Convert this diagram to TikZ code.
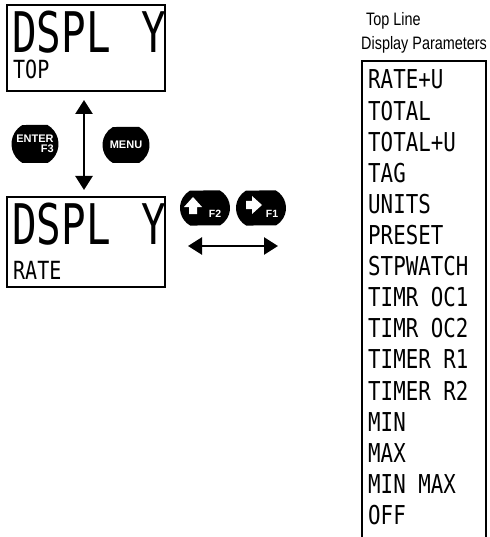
\documentclass[tikz,border=0pt]{standalone}
\usepackage{fontspec}
\setmainfont{Liberation Sans}
\newfontfamily\lcdfont[FakeStretch=0.8]{DejaVu Sans Mono}
\newfontfamily\lcdbig[FakeStretch=0.73]{DejaVu Sans Mono}
\newfontfamily\titlefont[FakeStretch=0.8]{Liberation Sans}
\usetikzlibrary{arrows.meta,shapes.misc}
\tikzset{
  lcdbox/.style={draw, line width=2pt, minimum width=158pt, minimum height=86pt, inner sep=0pt},
  bigtxt/.style={font=\lcdbig\fontsize{56}{56}\selectfont, inner sep=0pt, anchor=base west, text height=41pt, text depth=0pt},
  smalltxt/.style={font=\lcdfont\fontsize{25}{25}\selectfont, inner sep=0pt, anchor=base west, text height=18pt, text depth=0pt},
  listtxt/.style={font=\lcdfont\fontsize{26}{26}\selectfont, inner sep=0pt, anchor=base west, text height=19pt, text depth=0pt},
  keybtn/.style={rounded rectangle, rounded rectangle arc length=120, fill=black, text=white,
     font=\bfseries\fontsize{11}{11}\selectfont, inner sep=0pt},
  keylbl/.style={text=white, font=\bfseries\fontsize{10.5}{10.5}\selectfont, inner sep=0pt},
  dblarrow/.style={{Triangle[length=14pt,width=17pt]}-{Triangle[length=14pt,width=17pt]}, line width=2.5pt},
  titletxt/.style={font=\titlefont\fontsize{18}{20}\selectfont, inner sep=0pt, anchor=base west}
}
\begin{document}
\begin{tikzpicture}[x=1pt,y=-1pt]
\useasboundingbox (0,0) rectangle (489,537);
% LCD boxes
\node[lcdbox] (box1) at (86,48) {};
\node[lcdbox, minimum height=90pt] (box2) at (86,242) {};
\node[bigtxt] (d1) at (12,53) {DSPL};
\node[bigtxt] (y1) at (141,53) {Y};
\node[smalltxt] (top) at (13,79) {TOP};
\node[bigtxt] (d2) at (12,244) {DSPL};
\node[bigtxt] (y2) at (141,244) {Y};
\node[smalltxt] (rate) at (13,279) {RATE};
% vertical arrow
\draw[dblarrow, shorten <=8pt, shorten >=6pt] ([xshift=-2pt]box1.south) -- ([xshift=-2pt]box2.north);
% buttons
\node[keybtn, minimum width=47pt, minimum height=38pt, align=right] (enter) at (35,144) {ENTER\\[-1pt]F3};
\node[keybtn, minimum width=47pt, minimum height=36pt] (menu) at (126,145) {MENU};
\node[keybtn, minimum width=50pt, minimum height=35pt] (f2) at (205,208) {};
\node[keybtn, minimum width=50pt, minimum height=35pt] (f1) at (261,208) {};
\node[keylbl] (f2t) at (215,214) {F2};
\node[keylbl] (f1t) at (272,214) {F1};
\fill[white] (184,207) -- (193,197) -- (202,207) -- (197,207) -- (197,214) -- (189,214) -- (189,207) -- cycle;
\fill[white] (246,201) -- (252,201) -- (252,196) -- (262,205) -- (252,214) -- (252,209) -- (246,209) -- cycle;
% horizontal arrow
\coordinate (hl) at (188,246);
\coordinate (hr) at (278,246);
\draw[dblarrow] (hl) -- (hr);
% title
\node[titletxt] (t1) at (366,26) {Top Line};
\node[titletxt] (t2) at (361,50) {Display Parameters};
% list box
\coordinate (lb1) at (362,537);
\coordinate (lb2) at (362,61);
\coordinate (lb3) at (486,61);
\coordinate (lb4) at (486,537);
\draw[line width=1.8pt] (lb1) -- (lb2) -- (lb3) -- (lb4);
\foreach \t [count=\i from 0] in {RATE+U,TOTAL,TOTAL+U,TAG,UNITS,PRESET,STPWATCH,TIMR OC1,TIMR OC2,TIMER R1,TIMER R2,MIN,MAX,MIN MAX,OFF}
  \node[listtxt] (p\i) at (368,89+31.1*\i) {\t};
\end{tikzpicture}
\end{document}
